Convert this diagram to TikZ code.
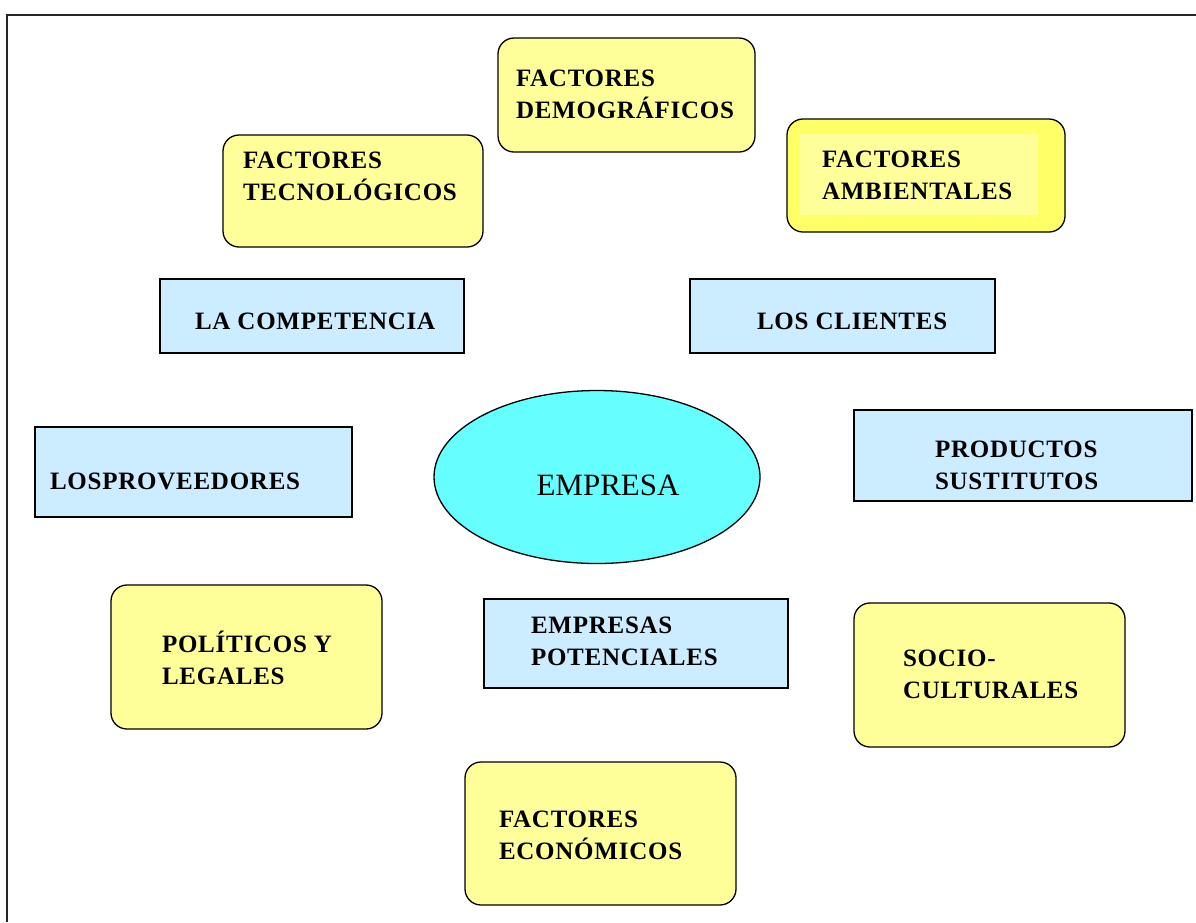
\documentclass[tikz,border=0pt]{standalone}
\usepackage{fontspec}
\setmainfont{Liberation Serif}
\newfontfamily\lblfont[LetterSpace=3]{Liberation Serif}
\usetikzlibrary{shapes.geometric}
\definecolor{ylw}{HTML}{FFFF99}
\definecolor{ylwstrong}{HTML}{FFFF66}
\definecolor{blu}{HTML}{CCECFF}
\definecolor{cyn}{HTML}{66FFFF}
\tikzset{
  ybox/.style={draw=black, line width=1.3pt, fill=ylw, rounded corners=16pt, inner sep=0pt, outer sep=0pt},
  bbox/.style={draw=black, line width=1.3pt, fill=blu, inner sep=0pt, outer sep=0pt},
  lbl/.style={inner sep=0pt, outer sep=0pt, align=left, anchor=west,
    font=\lblfont\bfseries\fontsize{25}{32}\selectfont,
    execute at begin node={\vrule height 23pt width 0pt},
    execute at end node={\vrule depth 7pt width 0pt}},
  frameline/.style={draw=black!85, line width=2pt}
}
\begin{document}
\begin{tikzpicture}[x=1pt,y=-1pt]
\useasboundingbox (0,0) rectangle (1196,922);
\fill[white] (0,0) rectangle (1196,922);
% frame
\coordinate (fbl) at (7,922);
\coordinate (ftl) at (7,15);
\coordinate (ftr) at (1196,15);
\draw[frameline] (fbl) -- (ftl) -- (ftr);

% yellow boxes
\node[ybox, minimum width=257pt, minimum height=114pt] (demo) at (626.5,95) {};
\node[lbl] (demoT) at (516,98) {FACTORES\\DEMOGRÁFICOS};

\node[ybox, minimum width=260pt, minimum height=112pt] (tec) at (353,191) {};
\node[lbl] (tecT) at (243,180) {FACTORES\\TECNOLÓGICOS};

\node[ybox, fill=ylwstrong, minimum width=278pt, minimum height=113pt] (amb) at (926,175.5) {};
\node[fill=ylw, inner sep=0pt, minimum width=238pt, minimum height=81pt] (ambIn) at (919,174.5) {};
\node[lbl] (ambT) at (822,179) {FACTORES\\AMBIENTALES};

% blue boxes
\node[bbox, minimum width=304pt, minimum height=74pt] (comp) at (312,316) {};
\node[lbl] (compT) at (195,321) {LA COMPETENCIA};

\node[bbox, minimum width=305pt, minimum height=74pt] (cli) at (842.5,316) {};
\node[lbl] (cliT) at (757,321) {LOS CLIENTES};

\node[bbox, minimum width=317pt, minimum height=90pt] (prov) at (193.5,472) {};
\node[lbl] (provT) at (50,481) {LOSPROVEEDORES};

\node[bbox, minimum width=338pt, minimum height=91pt] (prod) at (1023,455.5) {};
\node[lbl] (prodT) at (935,469) {PRODUCTOS\\SUSTITUTOS};

\node[bbox, minimum width=304pt, minimum height=89pt] (pot) at (636,643.5) {};
\node[lbl] (potT) at (531,645) {EMPRESAS\\POTENCIALES};

% ellipse
\node[ellipse, draw=black, line width=1.3pt, fill=cyn, minimum width=326pt, minimum height=173pt, inner sep=0pt] (emp) at (597,477) {};
\node[inner sep=0pt, font=\fontsize{31}{36}\selectfont] (empT) at (608,485) {EMPRESA};

% lower yellow boxes
\node[ybox, minimum width=271pt, minimum height=144pt] (pol) at (246.5,657) {};
\node[lbl] (polT) at (162,661) {POLÍTICOS Y\\LEGALES};

\node[ybox, minimum width=271pt, minimum height=144pt] (soc) at (989.5,675) {};
\node[lbl] (socT) at (903,678) {SOCIO-\\CULTURALES};

\node[ybox, minimum width=271pt, minimum height=143pt] (eco) at (600.5,833.5) {};
\node[lbl] (ecoT) at (499,839) {FACTORES\\ECONÓMICOS};
\end{tikzpicture}
\end{document}
